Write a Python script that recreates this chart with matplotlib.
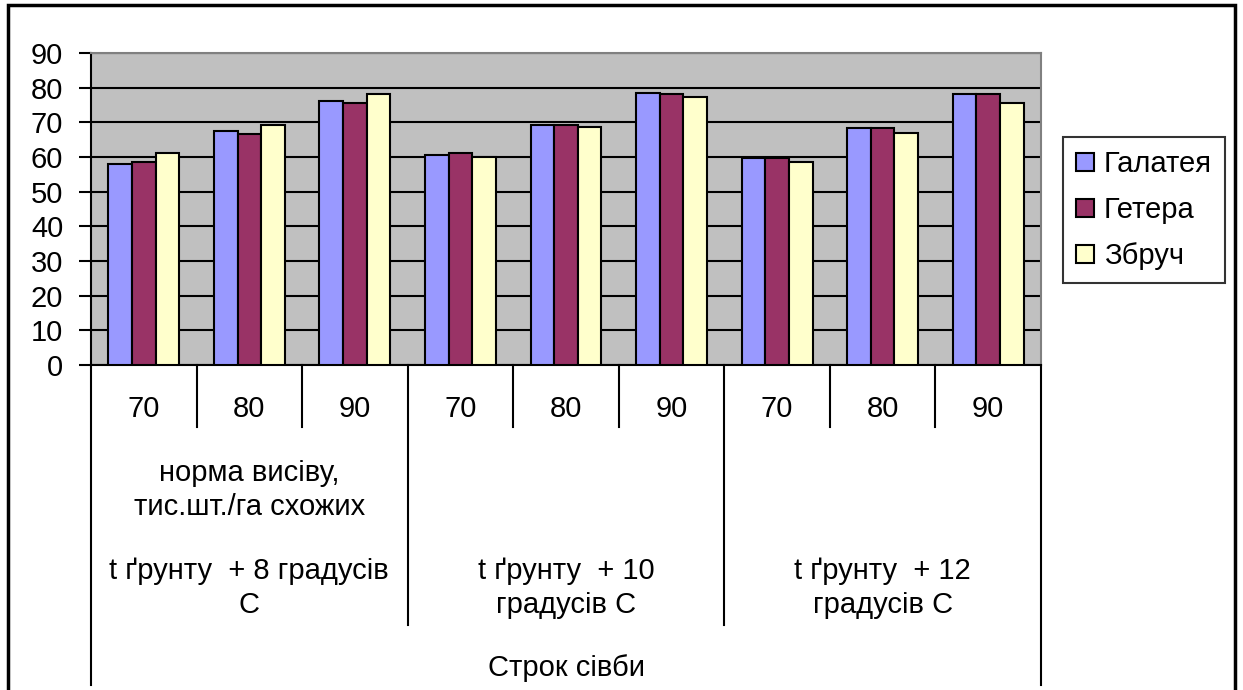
import matplotlib
matplotlib.use("Agg")
import matplotlib.pyplot as plt
import matplotlib.transforms as mtransforms
from matplotlib.patches import Rectangle
import numpy as np

plt.rcParams['font.family'] = ['Liberation Sans', 'DejaVu Sans']

# data
rates = ["70", "80", "90", "70", "80", "90", "70", "80", "90"]
periods = ["t ґрунту  + 8 градусів\nC", "t ґрунту  + 10\nградусів C", "t ґрунту  + 12\nградусів C"]
series = ["Галатея", "Гетера", "Збруч"]
galateya = [58.0, 67.5, 76.1, 60.5, 69.1, 78.6, 59.8, 68.5, 78.1]
getera = [58.5, 66.7, 75.6, 61.1, 69.2, 78.1, 59.8, 68.5, 78.1]
zbruch = [61.1, 69.3, 78.1, 59.9, 68.6, 77.4, 58.6, 66.8, 75.6]
colors = ["#9999FF", "#993366", "#FFFFCC"]

FS = 21
W, H = 1243, 690
fig = plt.figure(figsize=(W / 100, H / 100), dpi=100)

def fx(px):
    return px / W

def fy(py):
    return 1 - py / H

# outer chart frame
fig.patches.append(Rectangle((fx(8), fy(700)), fx(1235) - fx(8), fy(5) - fy(700),
                             transform=fig.transFigure, fill=False,
                             edgecolor="black", linewidth=2.5))

left, right, top, bottom = 91, 1041, 53, 365
ax = fig.add_axes([fx(left), fy(bottom), fx(right) - fx(left), fy(top) - fy(bottom)])
ax.set_facecolor("#C0C0C0")

x = np.arange(len(rates))
bw = 0.224
for i, (vals, name) in enumerate(zip([galateya, getera, zbruch], series)):
    ax.bar(x + (i - 1) * bw, vals, bw, color=colors[i], edgecolor="black",
           linewidth=1.5, label=name, zorder=3)

ax.set_xlim(-0.5, len(rates) - 0.5)
ax.set_ylim(0, 90)
ax.set_yticks(range(0, 91, 10))
ax.yaxis.grid(True, color="black", linewidth=1.5, zorder=1)
ax.set_axisbelow(True)
ax.set_xticks([])
ax.tick_params(axis="y", labelsize=FS, length=9, width=1.5, direction="out", pad=11)
for s in ["top", "right"]:
    ax.spines[s].set_color("#808080")
    ax.spines[s].set_linewidth(1.5)
for s in ["left", "bottom"]:
    ax.spines[s].set_color("black")
    ax.spines[s].set_linewidth(1.5)

# multi-level category axis
tr = mtransforms.blended_transform_factory(ax.transData, fig.transFigure)
for b in np.arange(0.5, len(rates) - 1, 1.0):
    if (b + 0.5) % 3 != 0:
        ax.plot([b, b], [fy(bottom), fy(427)], color="black", lw=1.5,
                transform=tr, clip_on=False)
for b in [2.5, 5.5]:
    ax.plot([b, b], [fy(bottom), fy(625)], color="black", lw=1.5,
            transform=tr, clip_on=False)
for b in [-0.5, len(rates) - 0.5]:
    ax.plot([b, b], [fy(bottom), fy(685)], color="black", lw=1.5,
            transform=tr, clip_on=False)

for xi, lab in zip(x, rates):
    ax.text(xi, fy(409), lab, transform=tr, ha="center", va="center", fontsize=FS)

ax.text(1, fy(490), "норма висіву,\nтис.шт./га схожих", transform=tr,
        ha="center", va="center", fontsize=FS, linespacing=1.27)

for gi, lab in enumerate(periods):
    ax.text(gi * 3 + 1, fy(588), lab, transform=tr, ha="center", va="center",
            fontsize=FS, linespacing=1.27)

ax.text(4, fy(668), "Строк сівби", transform=tr, ha="center", va="center", fontsize=FS)

# legend
leg = fig.legend(loc="upper left", bbox_to_anchor=(fx(1063), fy(137)),
                 bbox_transform=fig.transFigure, fontsize=FS, frameon=True,
                 fancybox=False, edgecolor="black", handlelength=0.6,
                 handleheight=0.6, handletextpad=0.35, labelspacing=0.62,
                 borderpad=0.45, borderaxespad=0)
leg.get_frame().set_linewidth(1.5)

fig.savefig("out.png", dpi=100)
